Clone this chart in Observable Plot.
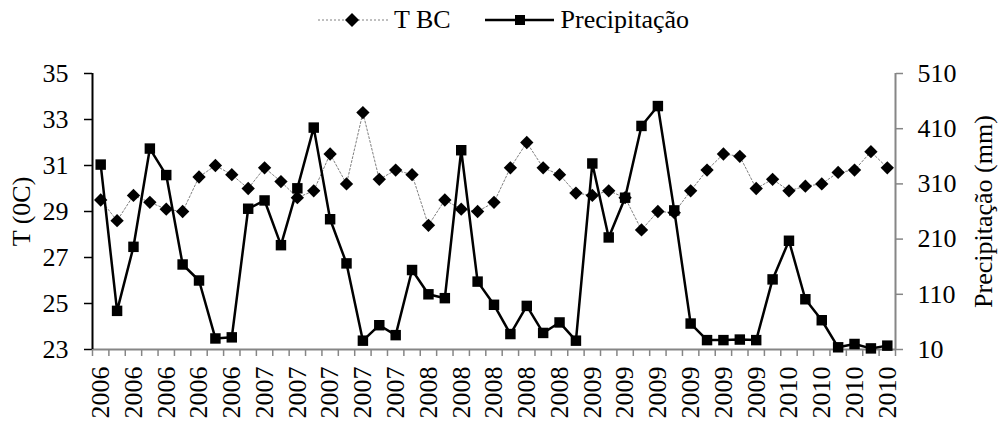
<!DOCTYPE html>
<html>
<head>
<meta charset="utf-8">
<script src="https://cdn.jsdelivr.net/npm/d3@7"></script>
<script src="https://cdn.jsdelivr.net/npm/@observablehq/plot@0.6"></script>
<style>
  body { margin: 0; background: #fff; font-family: "Liberation Serif", "Times New Roman", serif; }
  #legend { height: 40px; display: flex; align-items: center; padding-left: 318px; font-size: 26px; color: #000; }
  #legend .item { display: flex; align-items: center; }
  #legend svg { display: block; }
</style>
</head>
<body>
<div id="legend">
  <span class="item">
    <svg width="70" height="20"><line x1="0" x2="70" y1="10" y2="10" stroke="#808080" stroke-width="1" stroke-dasharray="2,2"/><path d="M34,3 L41,10 L34,17 L27,10 Z" fill="#000"/></svg>
    <span style="margin-left:6px">T BC</span>
  </span>
  <span class="item" style="margin-left:34px">
    <svg width="69" height="20"><line x1="0" x2="69" y1="10" y2="10" stroke="#000" stroke-width="2.5"/><rect x="30" y="5" width="10" height="10" fill="#000"/></svg>
    <span style="margin-left:7px">Precipitação</span>
  </span>
</div>
<div id="chart"></div>
<script>
// Category labels (one per monthly observation)
const years = [
  "2006", "2006", "2006", "2006", "2006", "2006", "2006", "2006", "2006", "2006",
  "2007", "2007", "2007", "2007", "2007", "2007", "2007", "2007", "2007", "2007",
  "2008", "2008", "2008", "2008", "2008", "2008", "2008", "2008", "2008", "2008",
  "2009", "2009", "2009", "2009", "2009", "2009", "2009", "2009", "2009", "2009", "2009", "2009",
  "2010", "2010", "2010", "2010", "2010", "2010", "2010"
];

// Temperature T BC (°C), left axis
const tbc = [
  29.5, 28.6, 29.7, 29.4, 29.1, 29.0, 30.5, 31.0, 30.6, 30.0,
  30.9, 30.3, 29.6, 29.9, 31.5, 30.2, 33.3, 30.4, 30.8, 30.6,
  28.4, 29.5, 29.1, 29.0, 29.4, 30.9, 32.0, 30.9, 30.6, 29.8,
  29.7, 29.9, 29.6, 28.2, 29.0, 28.95, 29.9, 30.8, 31.5, 31.4, 30.0, 30.4,
  29.9, 30.1, 30.2, 30.7, 30.8, 31.6, 30.9
];

// Precipitação (mm), right axis
const precip = [
  345, 80, 196, 374, 326, 164, 135, 30, 32, 265,
  280, 199, 302, 412, 246, 166, 26, 54, 36, 154,
  110, 103, 371, 133, 91, 38, 89, 40, 59, 26,
  347, 213, 285, 415, 451, 262, 57, 27, 27, 28, 27, 137,
  207, 101, 63, 14, 20, 12, 17
];

const tTicks = [23, 25, 27, 29, 31, 33, 35];
const pTicks = [10, 110, 210, 310, 410, 510];

// Map the precipitation range [10, 510] onto the temperature range [23, 35]
const tMin = 23, tMax = 35, pMin = 10, pMax = 510;
const toT = p => tMin + (p - pMin) * (tMax - tMin) / (pMax - pMin);
const fromT = t => pMin + (t - tMin) * (pMax - pMin) / (tMax - tMin);

const data = years.map((year, i) => ({ i, year, t: tbc[i], p: precip[i] }));
const n = data.length;
const bounds = d3.range(-0.5, n, 1);
const labelled = d3.range(0, n, 2);

const gray = "#868686";
const serif = "Liberation Serif";

const chart = Plot.plot({
  width: 1003,
  height: 383,
  marginTop: 33,
  marginBottom: 74,
  marginLeft: 92,
  marginRight: 108,
  x: { type: "linear", domain: [-0.5, n - 0.5], axis: null },
  y: { domain: [tMin, tMax], axis: null },
  style: { fontSize: "26px", color: "#000", background: "#fff", overflow: "visible" },
  marks: [
    // left axis (temperature)
    Plot.axisY(tTicks, { anchor: "left", tickSize: 8, tickPadding: 16, stroke: "#000", fill: "#000", strokeWidth: 1.5, label: null, fontFamily: serif, tickFormat: d => String(d) }),
    // right axis (precipitation)
    Plot.axisY(pTicks.map(toT), { anchor: "right", tickSize: 7, tickPadding: 15, stroke: gray, fill: "#000", strokeWidth: 1.5, label: null, fontFamily: serif, tickFormat: t => String(Math.round(fromT(t))) }),
    // category tick marks between observations
    Plot.axisX(bounds, { anchor: "bottom", tickSize: 7, stroke: gray, strokeWidth: 1.5, tickFormat: () => "", label: null }),
    // year labels on every other observation
    Plot.axisX(labelled, { anchor: "bottom", tickSize: 0, tickPadding: 17, tickRotate: -90, tickFormat: i => years[i], fill: "#000", fontFamily: serif, label: null }),
    // axis lines
    Plot.ruleY([tMin], { stroke: gray, strokeWidth: 2 }),
    Plot.ruleX([n - 0.5], { stroke: gray, strokeWidth: 2 }),
    Plot.ruleX([-0.5], { stroke: "#000", strokeWidth: 2 }),
    // axis titles
    Plot.text(["T (0C)"], { frameAnchor: "left", dx: -71, rotate: -90, textAnchor: "middle", fill: "#000", fontSize: 26, fontFamily: serif }),
    Plot.text(["Precipitação (mm)"], { frameAnchor: "right", dx: 88, rotate: -90, textAnchor: "middle", fill: "#000", fontSize: 26, fontFamily: serif }),
    // T BC series
    Plot.line(data, { x: "i", y: "t", stroke: "#808080", strokeWidth: 1, strokeDasharray: "2,2" }),
    Plot.dot(data, { x: "i", y: "t", symbol: "diamond2", r: 6, fill: "#000", stroke: "none" }),
    // Precipitação series
    Plot.line(data, { x: "i", y: d => toT(d.p), stroke: "#000", strokeWidth: 2.5 }),
    Plot.dot(data, { x: "i", y: d => toT(d.p), symbol: "square", r: 5.9, fill: "#000", stroke: "none" })
  ]
});

// put the serif face directly on every text node
chart.setAttribute("font-family", serif);
chart.querySelectorAll("text").forEach(t => {
  t.setAttribute("font-family", serif);
  t.style.fontFamily = `"${serif}", serif`;
  t.style.fontVariant = "normal";
});

document.getElementById("chart").appendChild(chart);
</script>
</body>
</html>
